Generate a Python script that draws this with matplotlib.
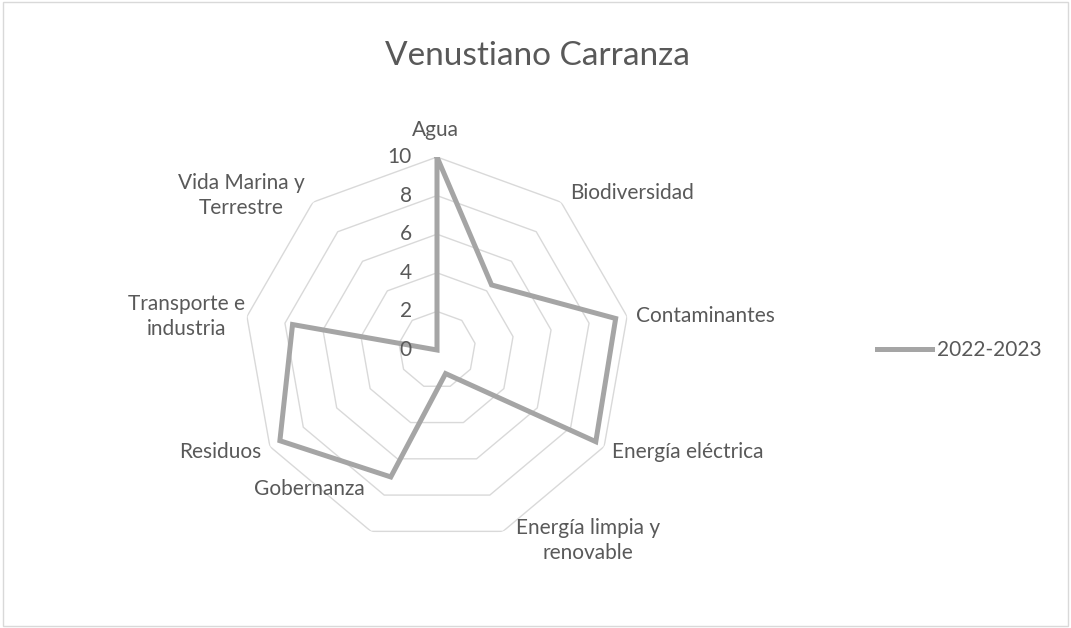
import matplotlib.pyplot as plt
import numpy as np

plt.rcParams['font.family'] = ['Lato', 'DejaVu Sans']

categorias = ['Agua', 'Biodiversidad', 'Contaminantes', 'Energía eléctrica',
              'Energía limpia y\nrenovable', 'Gobernanza', 'Residuos',
              'Transporte e\nindustria', 'Vida Marina y\nTerrestre']
valores = [10, 4.4, 9.4, 9.5, 1.3, 7.0, 9.4, 7.6, 0]
serie = '2022-2023'
anillos = [2, 4, 6, 8, 10]

gris_texto = '#595959'
gris_linea = '#A5A5A5'
gris_grid = '#D9D9D9'

W, H = 1071, 628
fig = plt.figure(figsize=(W / 100, H / 100), dpi=100)

# borde del area del grafico
fig.patches.append(plt.Rectangle((3 / W, 2 / H), 1065 / W, 624 / H, transform=fig.transFigure,
                                 fill=False, edgecolor=gris_grid, linewidth=1))

cx, cy, R = 437, 350, 193
ax = fig.add_axes([(cx - R) / W, (H - cy - R) / H, 2 * R / W, 2 * R / H], projection='polar')
ax.set_theta_zero_location('N')
ax.set_theta_direction(-1)
ax.set_ylim(0, 10)
ax.grid(False)
ax.spines['polar'].set_visible(False)
ax.set_xticks([])
ax.set_yticks([])
ax.patch.set_alpha(0)

n = len(categorias)
ang = np.linspace(0, 2 * np.pi, n, endpoint=False)
ang_c = np.append(ang, ang[0])

for r in anillos:
    ax.plot(ang_c, [r] * (n + 1), color=gris_grid, linewidth=1, zorder=1)

vals_c = valores + valores[:1]
linea, = ax.plot(ang_c, vals_c, color=gris_linea, linewidth=3.6, zorder=3,
                 solid_joinstyle='miter', label=serie)

fs = 15

# etiquetas del eje radial
for r in [0] + anillos:
    ax.annotate(str(r), xy=(0, r), xytext=(-25, 0), textcoords='offset pixels',
                ha='right', va='center', fontsize=fs, color=gris_texto)

# etiquetas de categorias (desplazamiento en pixeles desde el vertice exterior)
offs = [(-2, 27, 'center'), (9, 9, 'left'), (9, 0, 'left'), (8, -5, 'left'),
        (85, -9, 'center'), (-6, 42, 'right'), (-8, -5, 'right'), (-2, 0, 'right'),
        (-8, 7, 'right')]
for a, cat, (ox, oy, ha) in zip(ang, categorias, offs):
    ax.annotate(cat, xy=(a, 10), xytext=(ox, oy), textcoords='offset pixels',
                ha=ha, va='center', multialignment='center', fontsize=fs,
                color=gris_texto, linespacing=1.3, annotation_clip=False)

fig.text(537 / W, 1 - 56 / H, 'Venustiano Carranza', ha='center', va='center',
         fontsize=24, color=gris_texto)

fig.legend(handles=[linea], loc='center left', bbox_to_anchor=(877 / W, 1 - 350 / H),
           frameon=False, fontsize=fs, labelcolor=gris_texto, handlelength=2.64,
           handletextpad=0.24, borderpad=0, borderaxespad=0)

fig.savefig('out.png', dpi=100)
